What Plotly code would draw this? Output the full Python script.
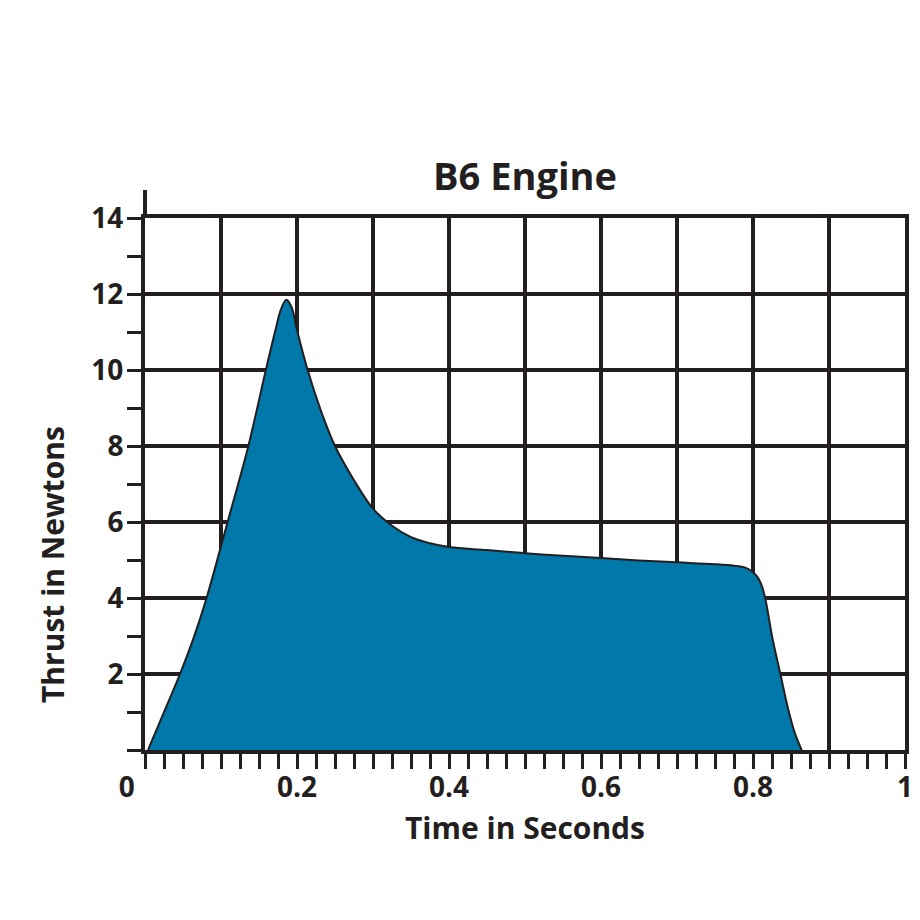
import plotly.graph_objects as go

# Thrust curve (time in s, thrust in N)
time_s = [0.004, 0.024, 0.046, 0.064, 0.081, 0.108, 0.136, 0.159, 0.171, 0.179,
          0.186, 0.193, 0.200, 0.214, 0.232, 0.250, 0.275, 0.300, 0.325, 0.350,
          0.375, 0.400, 0.450, 0.500, 0.550, 0.600, 0.650, 0.700, 0.750, 0.775,
          0.790, 0.800, 0.806, 0.811, 0.816, 0.826, 0.836, 0.846, 0.855, 0.864]
thrust_n = [0.0, 0.95, 2.0, 2.95, 4.0, 5.95, 8.0, 10.0, 11.0, 11.6,
            11.85, 11.65, 11.05, 10.0, 8.9, 8.0, 7.1, 6.35, 5.9, 5.6,
            5.44, 5.34, 5.26, 5.18, 5.11, 5.05, 4.99, 4.94, 4.89, 4.85,
            4.80, 4.68, 4.55, 4.35, 4.0, 2.9, 2.0, 1.1, 0.45, 0.0]

x_tickvals = [0, 0.1, 0.2, 0.3, 0.4, 0.5, 0.6, 0.7, 0.8, 0.9, 1.0]
x_ticktext = ["0\u00a0\u00a0\u00a0\u00a0\u00a0", "", "0.2", "", "0.4", "", "0.6", "", "0.8", "", "1"]
y_tickvals = [0, 2, 4, 6, 8, 10, 12, 14]
y_ticktext = ["", "2", "4", "6", "8", "10", "12", "14"]

INK = "#231f20"
FILL = "#0078aa"
FONT = "Open Sans"

# the page body adds an 8 px offset; positions below compensate for it
OFF = 8
W, H = 920, 920
L, R, T, B = 145 - OFF, 15 + OFF, 218 - OFF, 170 + OFF
PW, PH = W - L - R, H - T - B

fig = go.Figure()
fig.add_trace(go.Scatter(
    x=time_s, y=thrust_n, mode="lines",
    line=dict(color=INK, width=2, shape="spline", smoothing=1.0),
    fill="tozeroy", fillcolor=FILL, hoverinfo="skip", showlegend=False,
))

fig.update_layout(
    width=W, height=H,
    margin=dict(l=L, r=R, t=T, b=B, autoexpand=False),
    paper_bgcolor="white", plot_bgcolor="white",
    font=dict(family=FONT, color=INK),
    title=dict(text="<b>B6 Engine</b>", x=(L + PW / 2) / W, xanchor="center",
               y=1 - (177 - OFF) / H, yanchor="middle", yref="container",
               font=dict(size=38, family=FONT, color=INK)),
    showlegend=False,
)

fig.update_xaxes(
    range=[0, 1], tickmode="array", tickvals=x_tickvals, ticktext=x_ticktext,
    ticks="outside", ticklen=15, tickwidth=3, tickcolor=INK,
    minor=dict(dtick=0.025, tick0=0, ticks="outside", ticklen=15, tickwidth=3,
               tickcolor=INK, showgrid=False),
    showgrid=True, gridcolor=INK, gridwidth=4,
    showline=True, linecolor=INK, linewidth=4, mirror=True,
    zeroline=False,
    tickfont=dict(size=28, family=FONT, color=INK, weight="bold"),
    ticklabelstandoff=-6,
    title=dict(text="<b>Time in Seconds</b>", font=dict(size=30, family=FONT, color=INK),
               standoff=15),
)
fig.update_yaxes(
    range=[0, 14], tickmode="array", tickvals=y_tickvals, ticktext=y_ticktext,
    ticks="outside", ticklen=14, tickwidth=3, tickcolor=INK,
    minor=dict(dtick=1, tick0=0, ticks="outside", ticklen=14, tickwidth=3,
               tickcolor=INK, showgrid=False),
    showgrid=True, gridcolor=INK, gridwidth=4,
    showline=True, linecolor=INK, linewidth=4, mirror=True,
    zeroline=False,
    tickfont=dict(size=28, family=FONT, color=INK, weight="bold"),
    ticklabelstandoff=-2,
)

# extension of the vertical axis above the 14 N gridline
fig.add_shape(type="line", xref="paper", yref="paper", x0=0, x1=0,
              y0=1, y1=1 + 28 / PH, line=dict(color=INK, width=4))

# vertical axis title
fig.add_annotation(text="<b>Thrust in Newtons</b>", xref="paper", yref="paper",
                   x=(52 - 145) / PW, y=(750 - 565) / PH,
                   textangle=-90, showarrow=False, xanchor="center", yanchor="middle",
                   font=dict(size=30, family=FONT, color=INK))

fig.write_html("out.html")
